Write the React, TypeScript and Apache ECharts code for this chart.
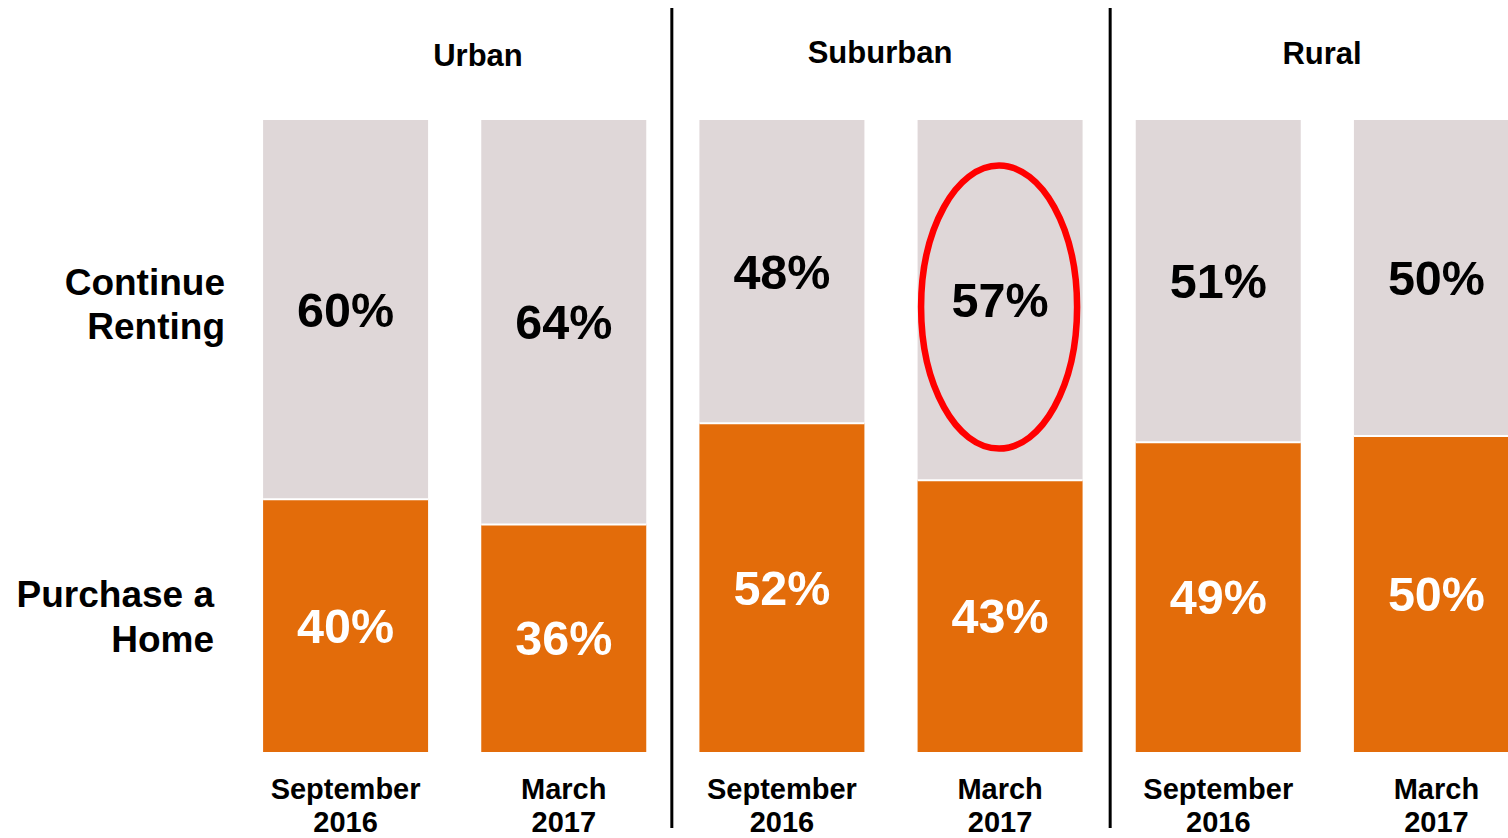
import React, { useEffect, useRef } from "react";
import * as echarts from "echarts";

const categories = [
  "September\n2016",
  "March\n2017",
  "September\n2016",
  "March\n2017",
  "September\n2016",
  "March\n2017",
];
const purchaseHome = [40, 36, 52, 43, 49, 50];
const continueRenting = [60, 64, 48, 57, 51, 50];
const groupTitles = ["Urban", "Suburban", "Rural"];
const highlightIndex = 3;

const ORANGE = "#E36C0A";
const GREY = "#DFD7D8";
const FONT = "'Liberation Sans', Arial, sans-serif";
const BAR_W = 165;

export default function App() {
  const ref = useRef<HTMLDivElement>(null);

  useEffect(() => {
    if (!ref.current) return;
    const chart = echarts.init(ref.current, null, { renderer: "svg" });
    const labelBase = {
      show: true,
      position: "inside",
      fontFamily: FONT,
      fontWeight: "bold",
      fontSize: 48.5,
      formatter: (p: any) => `${p.value}%`,
    };
    chart.setOption({
      animation: false,
      backgroundColor: "#fff",
      grid: { left: 236.5, top: 120, width: 1309, height: 634, containLabel: false },
      xAxis: {
        type: "category",
        data: categories,
        axisLine: { show: false },
        axisTick: { show: false },
        axisLabel: {
          interval: 0,
          margin: 20,
          color: "#000",
          fontFamily: FONT,
          fontWeight: "bold",
          fontSize: 29,
          lineHeight: 33,
        },
      },
      yAxis: { type: "value", min: 0, max: 100, show: false },
      series: [
        {
          name: "Purchase a Home",
          type: "bar",
          stack: "s",
          barWidth: BAR_W,
          data: purchaseHome,
          itemStyle: { color: ORANGE },
          label: { ...labelBase, color: "#fff" },
        },
        {
          name: "Continue Renting",
          type: "bar",
          stack: "s",
          barWidth: BAR_W,
          data: continueRenting,
          itemStyle: { color: GREY },
          label: { ...labelBase, color: "#000" },
        },
      ],
    });

    const px = (i: number, v: number) => chart.convertToPixel({ gridIndex: 0 }, [i, v]) as number[];
    const sep1 = (px(1, 0)[0] + px(2, 0)[0]) / 2;
    const sep2 = (px(3, 0)[0] + px(4, 0)[0]) / 2;
    const ell = px(highlightIndex, purchaseHome[highlightIndex] + continueRenting[highlightIndex] / 2);

    const gaps = purchaseHome.map((v, i) => {
      const p = px(i, v);
      return {
        type: "rect",
        shape: { x: p[0] - BAR_W / 2, y: p[1] - 1, width: BAR_W, height: 2 },
        style: { fill: "#fff" },
        z: 50,
      };
    });

    const titleX = [478, 880, 1322];
    const titleY = [55, 52, 53];

    chart.setOption({
      graphic: [
        ...gaps,
        ...[sep1 - 1, sep2 + 1].map((x) => ({
          type: "line",
          shape: { x1: x, y1: 8, x2: x, y2: 828 },
          style: { stroke: "#000", lineWidth: 3 },
        })),
        ...groupTitles.map((t, i) => ({
          type: "text",
          x: titleX[i],
          y: titleY[i],
          style: {
            text: t,
            fill: "#000",
            font: `bold 31px ${FONT}`,
            textAlign: "center",
            textVerticalAlign: "middle",
          },
        })),
        {
          type: "text",
          x: 225,
          y: 304,
          style: {
            text: "Continue\nRenting",
            fill: "#000",
            font: `bold 37px ${FONT}`,
            lineHeight: 44,
            textAlign: "right",
            textVerticalAlign: "middle",
          },
        },
        {
          type: "text",
          x: 214,
          y: 617,
          style: {
            text: "Purchase a\nHome",
            fill: "#000",
            font: `bold 37px ${FONT}`,
            lineHeight: 45,
            textAlign: "right",
            textVerticalAlign: "middle",
          },
        },
        {
          type: "ellipse",
          shape: { cx: ell[0] - 1, cy: ell[1] + 7, rx: 78, ry: 141.5 },
          style: { fill: "none", stroke: "#FF0000", lineWidth: 6.5 },
          z: 100,
        },
      ],
    });

    return () => chart.dispose();
  }, []);

  return (
    <div style={{ position: "absolute", left: 0, top: 0, width: 1508, height: 838, overflow: "hidden" }}>
      <div ref={ref} style={{ width: 1560, height: 838 }} />
    </div>
  );
}
